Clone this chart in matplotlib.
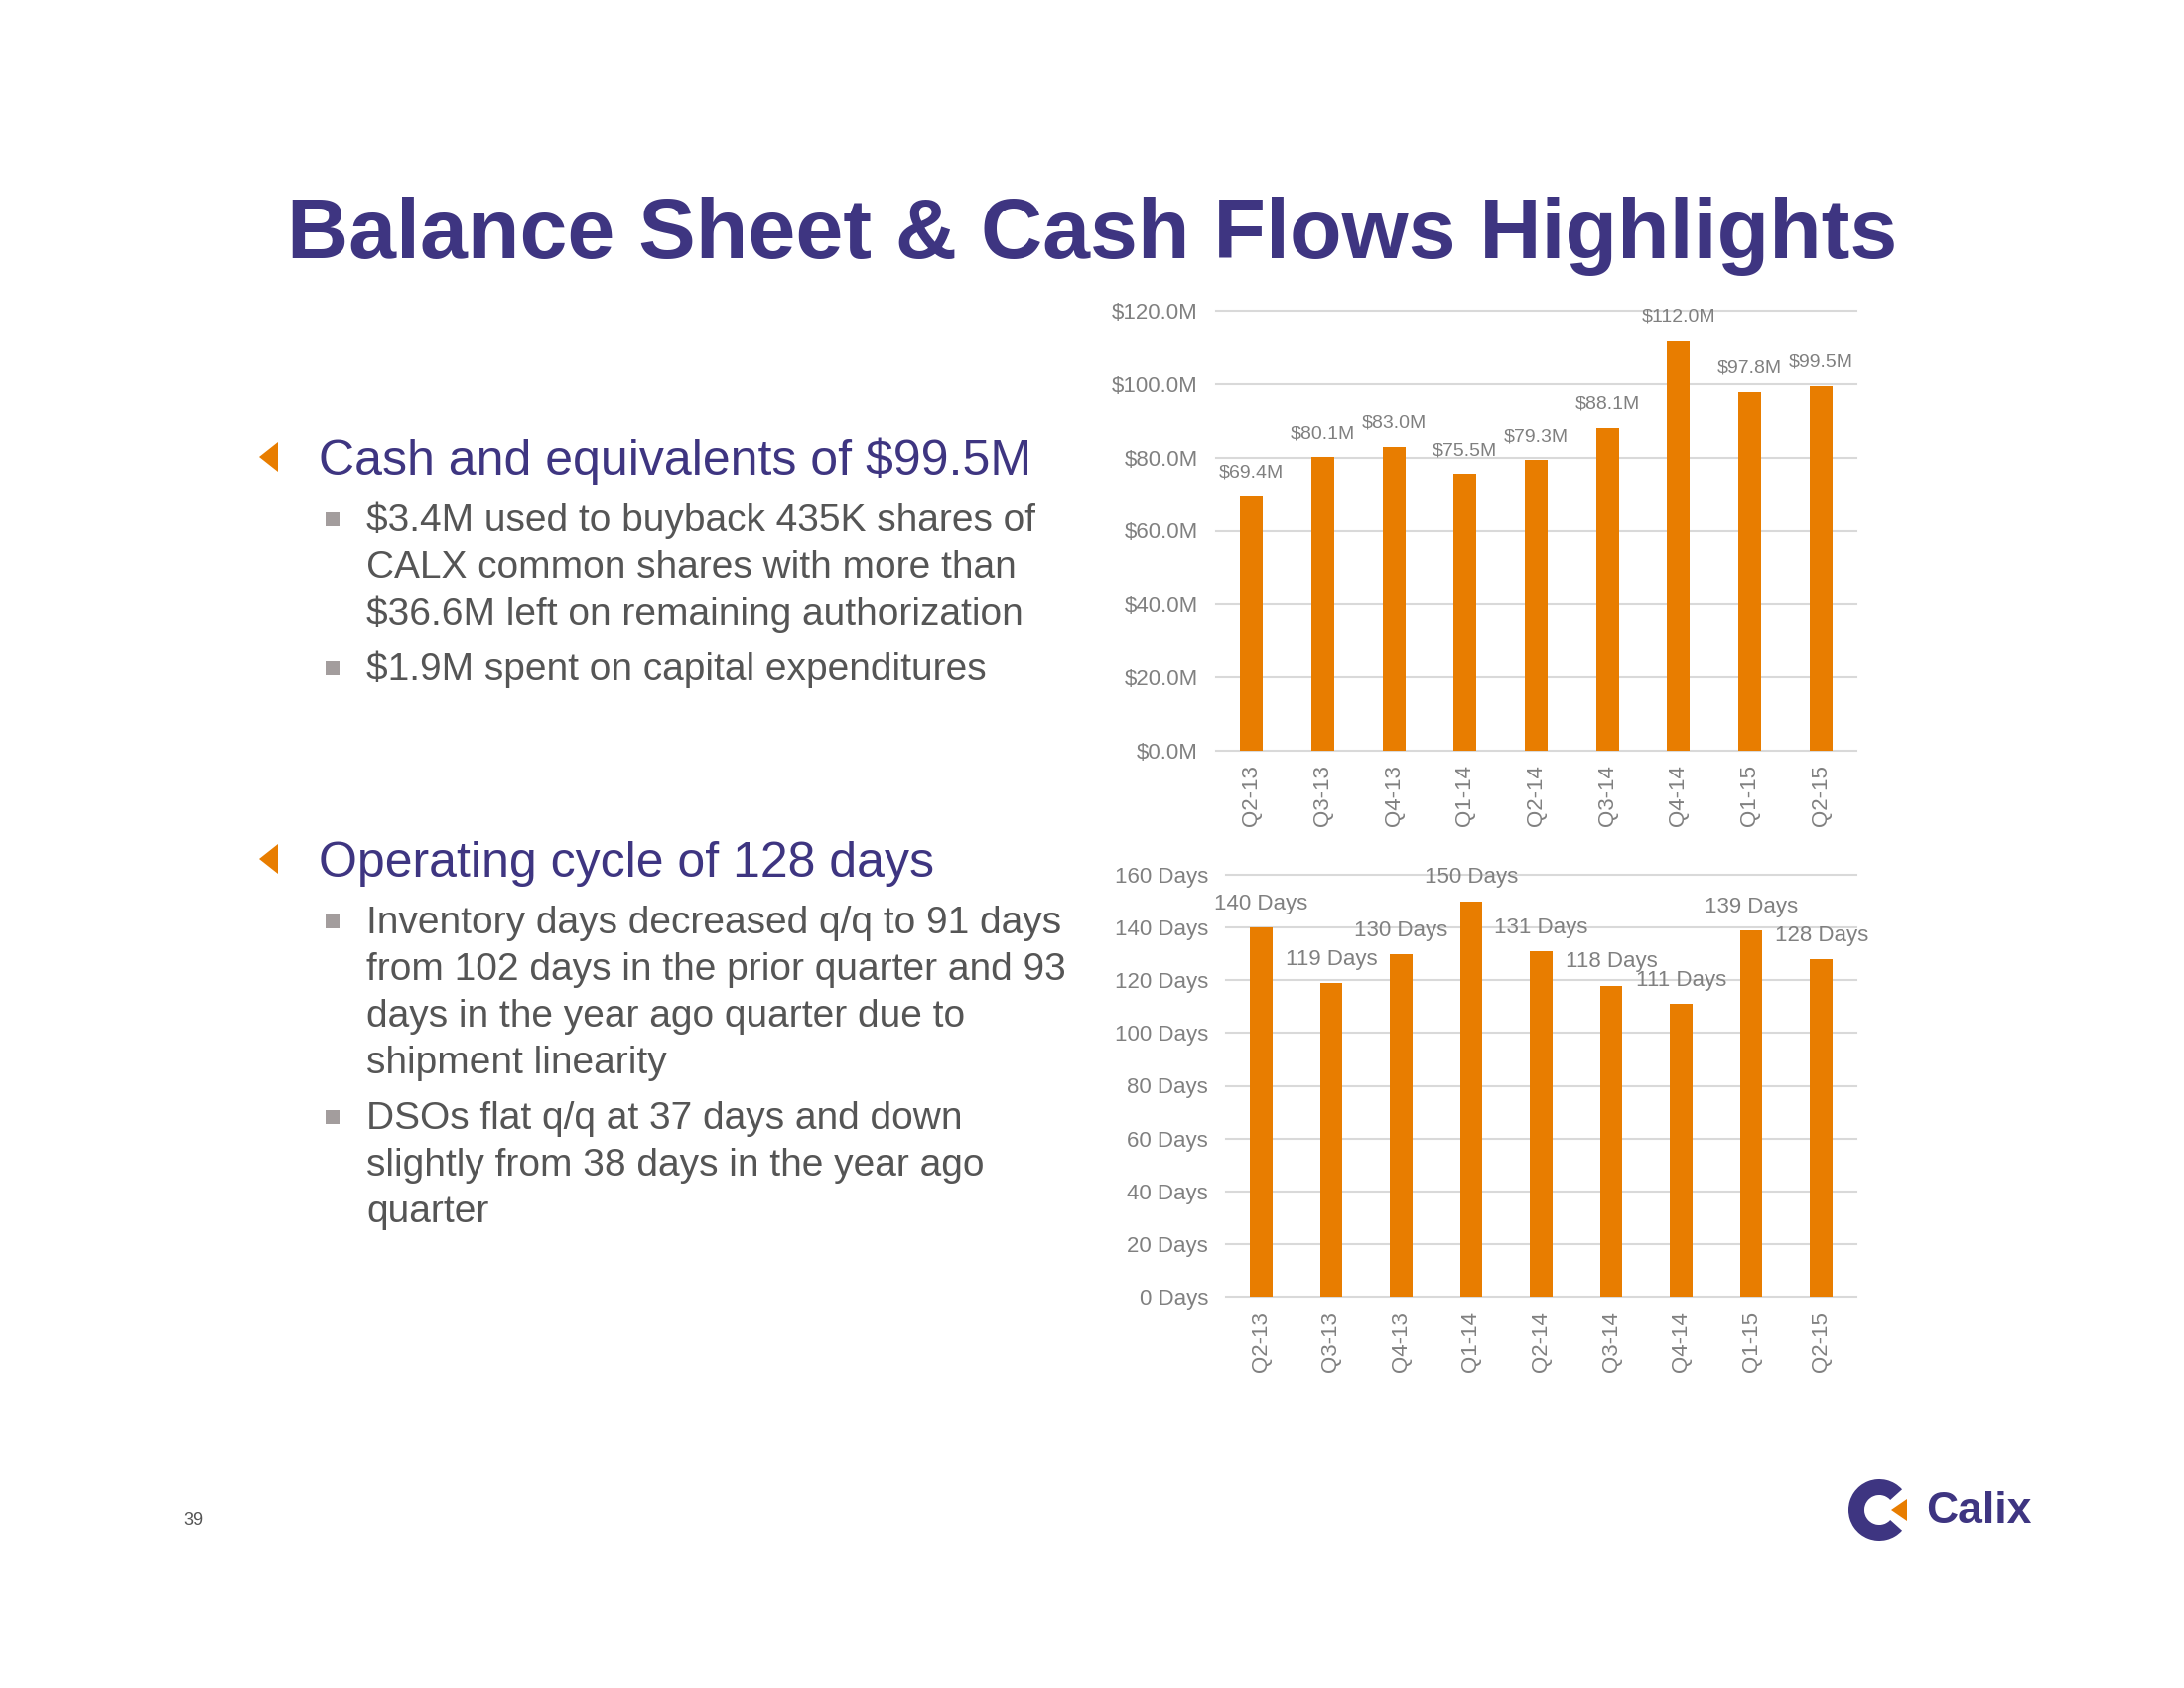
import matplotlib.pyplot as plt
from matplotlib.patches import Polygon, Rectangle, Wedge
import numpy as np

plt.rcParams['font.family'] = ['Liberation Sans', 'DejaVu Sans']

quarters = ['Q2-13', 'Q3-13', 'Q4-13', 'Q1-14', 'Q2-14', 'Q3-14', 'Q4-14', 'Q1-15', 'Q2-15']
cash_m = [69.4, 80.1, 83.0, 75.5, 79.3, 88.1, 112.0, 97.8, 99.5]
cycle_days = [140, 119, 130, 150, 131, 118, 111, 139, 128]
cash_ticks = [0, 20, 40, 60, 80, 100, 120]
days_ticks = [0, 20, 40, 60, 80, 100, 120, 140, 160]

title = 'Balance Sheet & Cash Flows Highlights'
heading_1 = 'Cash and equivalents of $99.5M'
bullets_1 = [['$3.4M used to buyback 435K shares of',
              'CALX common shares with more than',
              '$36.6M left on remaining authorization'],
             ['$1.9M spent on capital expenditures']]
heading_2 = 'Operating cycle of 128 days'
bullets_2 = [['Inventory days decreased q/q to 91 days',
              'from 102 days in the prior quarter and 93',
              'days in the year ago quarter due to',
              'shipment linearity'],
             ['DSOs flat q/q at 37 days and down',
              'slightly from 38 days in the year ago',
              'quarter']]

PURPLE = '#3E3581'
ORANGE = '#E87D00'
TEXT_GRAY = '#555555'
TICK_GRAY = '#808080'
GRID = '#D9D9D9'
SQUARE = '#A39D9D'

fig = plt.figure(figsize=(22, 17), dpi=100)

# background axes in pixel coordinates for slide text and decorations
deco = fig.add_axes([0, 0, 1, 1])
deco.set_xlim(0, 2200)
deco.set_ylim(1700, 0)
deco.axis('off')

deco.text(1100, 260, title, ha='center', va='baseline', fontsize=62,
          fontweight='bold', color=PURPLE)


def heading(y, txt):
    deco.add_patch(Polygon([[261, y - 18], [280, y - 33], [280, y - 3]],
                           closed=True, color=ORANGE, lw=0))
    deco.text(321, y, txt, ha='left', va='baseline', fontsize=36, color=PURPLE)


def bullets(y0, groups, line_h=47, gap=56):
    y = y0
    for g in groups:
        deco.add_patch(Rectangle((328, y - 19), 14, 14, color=SQUARE, lw=0))
        for line in g:
            deco.text(369, y, line, ha='left', va='baseline', fontsize=28, color=TEXT_GRAY)
            y += line_h
        y += gap - line_h


heading(478, heading_1)
bullets(535, bullets_1)
heading(883, heading_2)
bullets(940, bullets_2)

deco.text(194, 1531, '39', ha='center', va='center', fontsize=13, color=TEXT_GRAY)

# Calix logo
deco.add_patch(Wedge((1893, 1521), 31, 42, 318, width=16, color=PURPLE, lw=0))
deco.add_patch(Polygon([[1905, 1521], [1921, 1510], [1921, 1532]], closed=True,
                       color=ORANGE, lw=0))
deco.text(1940, 1522, 'Calix', ha='left', va='center', fontsize=32,
          fontweight='bold', color=PURPLE)


def bar_panel(rect, values, ticks, tick_fmt, label_fmt, label_fs, tick_fs):
    ax = fig.add_axes(rect)
    x = np.arange(len(quarters))
    ax.bar(x, values, width=0.32, color=ORANGE, zorder=3)
    ax.set_xlim(-0.5, len(quarters) - 0.5)
    ax.set_ylim(ticks[0], ticks[-1])
    ax.set_yticks(ticks)
    ax.set_yticklabels([tick_fmt(t) for t in ticks])
    ax.set_xticks(x)
    ax.set_xticklabels(quarters, rotation=90)
    ax.grid(axis='y', color=GRID, lw=1.5, zorder=0)
    for gl in ax.get_ygridlines():
        gl.set_clip_on(False)
    for s in ax.spines.values():
        s.set_visible(False)
    ax.tick_params(axis='y', length=0, colors=TICK_GRAY, labelsize=tick_fs, pad=13)
    ax.tick_params(axis='x', length=0, colors=TICK_GRAY, labelsize=16, pad=10)
    for xi, v in zip(x, values):
        ax.annotate(label_fmt(v), (xi, v), xytext=(0, 17), textcoords='offset points',
                    ha='center', va='center', fontsize=label_fs, color=TICK_GRAY)
    return ax


bar_panel([1225 / 2200, 1 - 756 / 1700, 645 / 2200, 443 / 1700], cash_m, cash_ticks,
          lambda t: f'${t:.1f}M', lambda v: f'${v:.1f}M', 14, 16)
bar_panel([1235 / 2200, 1 - 1306 / 1700, 635 / 2200, 425 / 1700], cycle_days, days_ticks,
          lambda t: f'{t} Days', lambda v: f'{v} Days', 16, 16)

fig.savefig('out.png', dpi=100)
